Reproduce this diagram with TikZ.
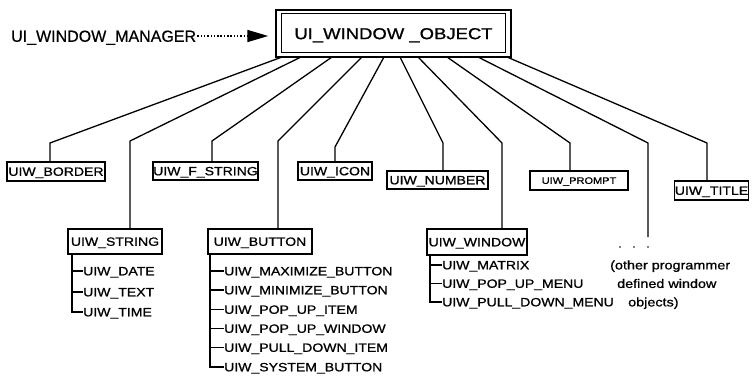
\documentclass[tikz,border=0pt]{standalone}
\usepackage{fontspec}
\setmainfont{Liberation Sans}[FakeBold=0.6]
\newfontfamily\widefont[FakeStretch=1.17,FakeBold=0.9]{Liberation Sans}
\usetikzlibrary{arrows.meta}
\tikzset{
  lbl/.style={font=\widefont\fontsize{12}{13}\selectfont, inner sep=0pt, text height=8.6pt, text depth=0pt},
  box/.style={lbl, draw, line width=1.3pt, align=center},
  item/.style={lbl, anchor=west},
  conn/.style={line width=1.3pt},
  note/.style={font=\widefont\fontsize{12.3}{14}\selectfont, anchor=west, inner sep=0pt, text height=8.8pt, text depth=0pt},
}
\begin{document}
\begin{tikzpicture}[x=1pt,y=-1pt]
\useasboundingbox (0,0) rectangle (753,388);
% main object
\node[draw, line width=1.5pt, minimum width=235pt, minimum height=47pt, inner sep=0pt,
      font=\widefont\fontsize{15.8}{17}\selectfont, text height=11.3pt, text depth=0pt] (obj) at (393.5,33.5) {UI\_WINDOW \_OBJECT\hspace{10pt}};
\draw[line width=1.3pt] ([shift={(6,4)}]obj.north west) rectangle ([shift={(-6,-5)}]obj.south east);
% manager
\node[font=\fontsize{16}{18}\selectfont, anchor=west, inner sep=1pt, text height=11.5pt, text depth=0pt] (mgr) at (10,36) {UI\_WINDOW\_MANAGER};
\draw[line width=1.7pt, dash pattern={on 1.5pt off 1.8pt}, -{Triangle[length=21pt,width=12pt]}, shorten >=7pt]
  (mgr.east) -- (obj.west |- mgr.east);
% children
\node[box, minimum width=98pt, minimum height=19pt] (border) at (56,171.5) {UIW\_BORDER};
\node[box, minimum width=105pt, minimum height=18pt] (fstring) at (205.5,171) {UIW\_F\_STRING};
\node[box, minimum width=74pt, minimum height=18pt] (icon) at (335,171) {UIW\_ICON};
\node[box, minimum width=101pt, minimum height=18pt] (number) at (437.5,180) {UIW\_NUMBER};
\node[box, minimum width=98pt, minimum height=19pt, font=\widefont\fontsize{9.4}{10}\selectfont, text height=6.7pt] (prompt) at (579,180.5) {UIW\_PROMPT};
\node[box, minimum width=73pt, minimum height=19pt] (title) at (711.5,190.5) {UIW\_TITLE};
\node[box, minimum width=94pt, minimum height=25pt] (strbox) at (115,241.5) {UIW\_STRING};
\node[box, minimum width=104pt, minimum height=25pt] (button) at (260,241.5) {UIW\_BUTTON};
\node[box, minimum width=100pt, minimum height=26pt] (window) at (477,242) {UIW\_WINDOW};
% fan connectors
\coordinate (s1) at (282,57);  \coordinate (k1) at (50,143);
\coordinate (s2) at (301,57);  \coordinate (k2) at (130,141);
\coordinate (s3) at (332,57);  \coordinate (k3) at (212,141);
\coordinate (s4) at (362,57);  \coordinate (k4) at (278,141);
\coordinate (s5) at (384,57);  \coordinate (k5) at (335,147);
\coordinate (s6) at (400,57);  \coordinate (k6) at (443,143);
\coordinate (s7) at (418,57);  \coordinate (k7) at (502,143);
\coordinate (s8) at (447,57);  \coordinate (k8) at (570,143);
\coordinate (s9) at (478,57);  \coordinate (k9) at (648,143);
\coordinate (s10) at (507,57); \coordinate (k10) at (707,143);
\coordinate (dend) at (648,237);
\draw[conn] (s1) -- (k1) -- (k1 |- border.north);
\draw[conn] (s2) -- (k2) -- (k2 |- strbox.north);
\draw[conn] (s3) -- (k3) -- (k3 |- fstring.north);
\draw[conn] (s4) -- (k4) -- (k4 |- button.north);
\draw[conn] (s5) -- (k5) -- (k5 |- icon.north);
\draw[conn] (s6) -- (k6) -- (k6 |- number.north);
\draw[conn] (s7) -- (k7) -- (k7 |- window.north);
\draw[conn] (s8) -- (k8) -- (k8 |- prompt.north);
\draw[conn] (s9) -- (k9) -- (dend);
\draw[conn] (s10) -- (k10) -- (k10 |- title.north);
\fill (620,247) circle (0.9pt) (634,247) circle (0.9pt) (648,247) circle (0.9pt);
% string list
\path (strbox.south) ++(-43,0) coordinate (sv);
\node[item] (date) at (83,271) {UIW\_DATE};
\node[item] (text) at (83,292) {UIW\_TEXT};
\node[item] (time) at (83,312) {UIW\_TIME};
\draw[conn] (sv) |- (time.west);
\draw[conn] (sv |- date.west) -- (date.west);
\draw[conn] (sv |- text.west) -- (text.west);
% button list
\path (button.south) ++(-50,0) coordinate (bv);
\node[item] (b1) at (224,271) {UIW\_MAXIMIZE\_BUTTON};
\node[item] (b2) at (224,290) {UIW\_MINIMIZE\_BUTTON};
\node[item] (b3) at (224,309.5) {UIW\_POP\_UP\_ITEM};
\node[item] (b4) at (224,328.5) {UIW\_POP\_UP\_WINDOW};
\node[item] (b5) at (224,347.5) {UIW\_PULL\_DOWN\_ITEM};
\node[item] (b6) at (224,367) {UIW\_SYSTEM\_BUTTON};
\draw[conn] (bv) |- (b6.west);
\foreach \n in {b1,b2,b3,b4,b5} \draw[conn] (bv |- \n.west) -- (\n.west);
% window list
\path (window.south) ++(-47,0) coordinate (wv);
\node[item] (w1) at (442,265) {UIW\_MATRIX};
\node[item] (w2) at (442,283.5) {UIW\_POP\_UP\_MENU};
\node[item] (w3) at (442,302) {UIW\_PULL\_DOWN\_MENU};
\draw[conn] (wv) |- (w3.west);
\draw[conn] (wv |- w1.west) -- (w1.west);
\draw[conn] (wv |- w2.west) -- (w2.west);
% note
\node[note] (n1) at (610,265) {(other programmer};
\node[note] (n2) at (617,283.5) {defined window};
\node[note] (n3) at (628,302) {objects)};
\end{tikzpicture}
\end{document}
